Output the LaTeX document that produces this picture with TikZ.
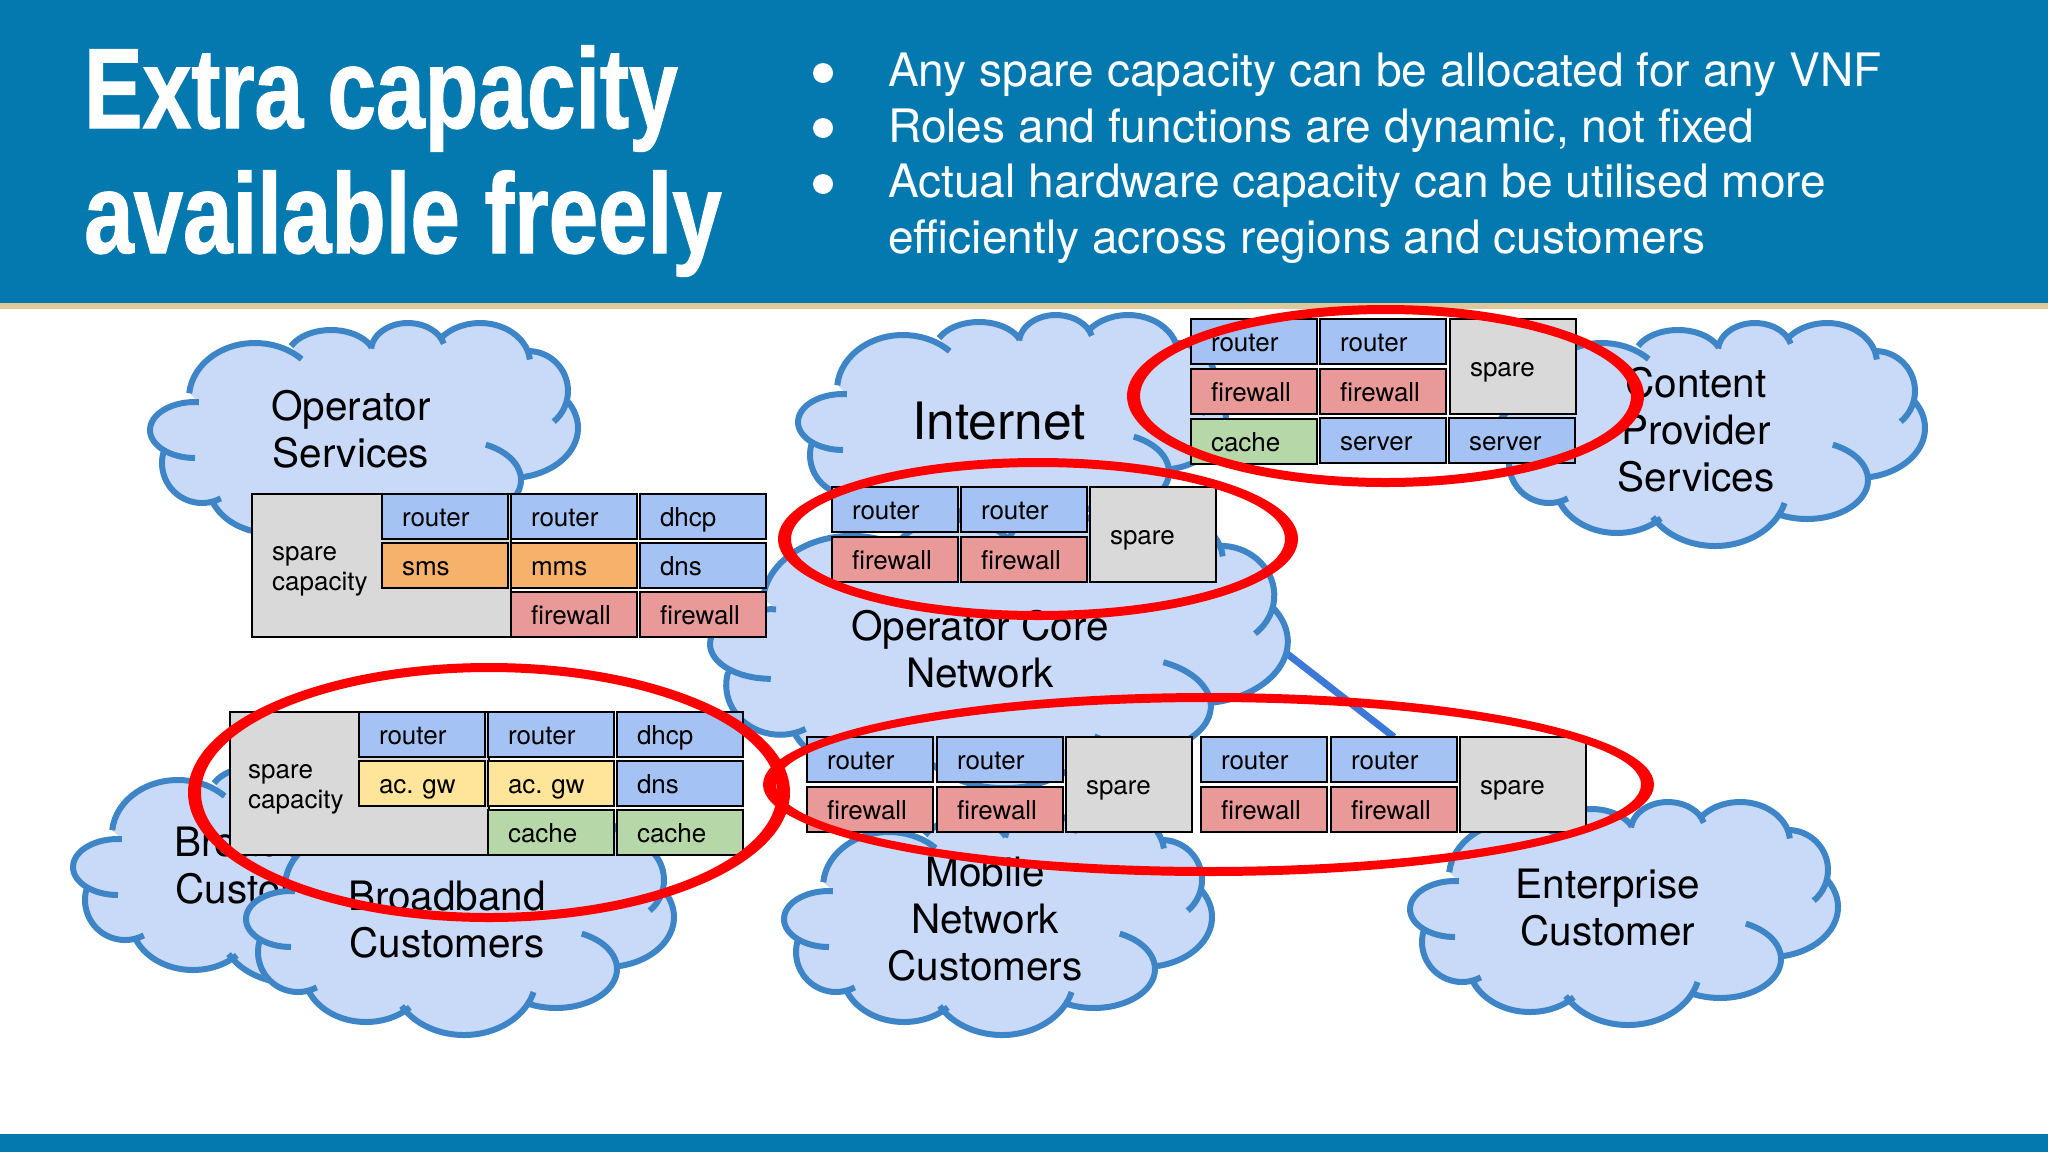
\documentclass[tikz,border=0pt]{standalone}
\usepackage{fontspec}
\setmainfont{TeX Gyre Heros}
\newfontfamily\titlefonta[FakeStretch=0.768,FakeBold=1]{Liberation Sans}
\newfontfamily\titlefontb[FakeStretch=0.78,FakeBold=1]{Liberation Sans}
\usetikzlibrary{backgrounds}

\definecolor{bandblue}{HTML}{0479AF}
\definecolor{bandtan}{HTML}{DCC89B}
\definecolor{cloudfill}{HTML}{C9DAF8}
\definecolor{cloudline}{HTML}{3D85C6}
\definecolor{linkblue}{HTML}{3C78D8}
\definecolor{routerblue}{HTML}{A4C2F4}
\definecolor{firewallred}{HTML}{EA9999}
\definecolor{smsorange}{HTML}{F6B26B}
\definecolor{gwyellow}{HTML}{FFE599}
\definecolor{cachegreen}{HTML}{B6D7A8}
\definecolor{sparegray}{HTML}{D9D9D9}

\tikzset{
  cloudlabel/.style={align=center,font=\fontsize{40.5}{47}\selectfont},
  bulletline/.style={anchor=base west,inner sep=0pt,text=white,font=\fontsize{46.1}{55}\selectfont},
  bulletdot/.style={circle,fill=white,inner sep=0pt,minimum size=20pt},
  cell/.style={draw=black,line width=2.5pt,anchor=north west,outer sep=0pt,inner xsep=20pt,inner ysep=0pt,
    text width=86pt,minimum height=45pt,text height=21pt,text depth=2pt,align=left,font=\fontsize{26}{29}\selectfont},
  routercell/.style={cell,fill=routerblue},
  firewallcell/.style={cell,fill=firewallred},
  smscell/.style={cell,fill=smsorange},
  gwcell/.style={cell,fill=gwyellow},
  cachecell/.style={cell,fill=cachegreen},
  sparecell/.style={cell,fill=sparegray,minimum height=95pt},
  sparebase/.style={draw=black,line width=2.5pt,fill=sparegray,anchor=north west,outer sep=0pt,inner sep=0pt,
    minimum width=259pt,minimum height=143pt},
  sparelabel/.style={anchor=west,inner sep=0pt,align=left,font=\fontsize{26}{30}\selectfont}
}

% ellipse lobe: centre, radii, start and end angle
\newcommand{\lobe}[6]{({#1+#3*cos(#5)},{#2+#4*sin(#5)}) arc[start angle=#5,end angle=#6,x radius=#3,y radius=#4]}
% clockwise from the left
\newcommand{\cloudlobes}[1]{
  \lobe{45}{107}{45}{28}{90}{275} #1
  \lobe{105}{75}{66}{55}{185}{315} #1
  \lobe{181}{35}{44}{28}{205}{338} #1
  \lobe{258}{28}{37}{28}{185}{345} #1
  \lobe{330}{40}{50}{40}{215}{355} #1
  \lobe{378}{68}{40}{40}{268}{410} #1
  \lobe{360}{105}{68}{50}{325}{440} #1
  \lobe{310}{157}{61}{39}{295}{480} #1
  \lobe{218}{165}{72}{58}{15}{150} #1
  \lobe{120}{160}{62}{50}{45}{157} #1
  \lobe{52}{140}{40}{40}{62}{195}
}
\newcommand{\netcloud}[3][]{
  \begin{scope}[shift={(#2,#3)},#1]
    \fill[cloudfill] \cloudlobes{--} -- cycle;
    \draw[cloudline,line width=6pt] \cloudlobes{};
  \end{scope}
}
% the ring is wider at its sides than at top and bottom
\newcommand{\redring}[4]{
  \fill[red,even odd rule] (#1,#2) ellipse (#3 and #4) (#1,#2) ellipse ({#3-13} and {#4-9});
}

\begin{document}
\begin{tikzpicture}[x=1pt,y=-1pt]
  \useasboundingbox (0,0) rectangle (2048,1152);

  % header
  \fill[bandblue] (0,0) rectangle (2048,303);
  \fill[bandtan] (0,303) rectangle (2048,309);
  \fill[bandblue] (0,1134) rectangle (2048,1152);
  \node[anchor=base west,inner sep=0pt,text=white,font=\titlefonta\bfseries\fontsize{114}{114}\selectfont] (title1) at (84,128) {Extra capacity};
  \node[anchor=base west,inner sep=0pt,text=white,font=\titlefontb\bfseries\fontsize{114}{114}\selectfont] (title2) at (84,253) {available freely};
  \node[bulletdot] (dot1) at (823,73) {};
  \node[bulletdot] (dot2) at (823,128) {};
  \node[bulletdot] (dot3) at (823,184) {};
  \node[bulletline] (line1) at (888,86) {Any spare capacity can be allocated for any VNF};
  \node[bulletline] (line2) at (888,142) {Roles and functions are dynamic, not fixed};
  \node[bulletline] (line3) at (888,197) {Actual hardware capacity can be utilised more};
  \node[bulletline] (line4) at (888,253) {efficiently across regions and customers};

  % clouds
  \netcloud{798}{315}
  \node[cloudlabel,font=\fontsize{51.5}{55}\selectfont] (internet) at (999,421) {Internet};
  \netcloud{150}{323}
  \node[cloudlabel] (opservices) at (351,429) {Operator\\Services};
  \netcloud{1497}{323}
  \node[cloudlabel] (content) at (1696,430) {Content\\Provider\\Services};
  \netcloud[xscale=1.35,yscale=1.243]{710}{511}
  \node[cloudlabel] (corenet) at (980,649) {Operator Core\\Network};
  \netcloud{73}{760}
  \node[cloudlabel] (broadback) at (273,866) {Broadband\\Customers};
  \netcloud{246}{812}
  \node[cloudlabel] (broadfront) at (447,920) {Broadband\\Customers};
  \netcloud{784}{812}
  \node[cloudlabel] (mobile) at (985,919) {Mobile\\Network\\Customers};
  \netcloud{1410}{802}
  \node[cloudlabel] (enterprise) at (1608,908) {Enterprise\\Customer};

  % operator services boxes
  \node[sparebase] (svcspare) at (252,494) {};
  \node[sparelabel] (svclabel) at (272,571) {spare\\capacity};
  \node[routercell] (svcr1) at (382,494) {router};
  \node[smscell] (svcsms) at (382,543) {sms};
  \node[routercell] (svcr2) at (511,494) {router};
  \node[smscell] (svcmms) at (511,543) {mms};
  \node[firewallcell] (svcf1) at (511,592) {firewall};
  \node[routercell] (svcdhcp) at (640,494) {dhcp};
  \node[routercell] (svcdns) at (640,543) {dns};
  \node[firewallcell] (svcf2) at (640,592) {firewall};

  % broadband boxes
  \node[sparebase] (bbspare) at (230,712) {};
  \node[sparelabel] (bblabel) at (248,789) {spare\\capacity};
  \node[routercell] (bbr1) at (359,712) {router};
  \node[gwcell] (bbgw1) at (359,761) {ac.\ gw};
  \node[routercell] (bbr2) at (488,712) {router};
  \node[gwcell] (bbgw2) at (488,761) {ac.\ gw};
  \node[cachecell] (bbc1) at (488,810) {cache};
  \node[routercell] (bbdhcp) at (617,712) {dhcp};
  \node[routercell] (bbdns) at (617,761) {dns};
  \node[cachecell] (bbc2) at (617,810) {cache};

  % core boxes
  \node[routercell] (corer1) at (832,487) {router};
  \node[firewallcell] (coref1) at (832,537) {firewall};
  \node[routercell] (corer2) at (961,487) {router};
  \node[firewallcell] (coref2) at (961,537) {firewall};
  \node[sparecell] (corespare) at (1090,487) {spare};

  % content boxes
  \node[routercell] (cpr1) at (1191,319) {router};
  \node[firewallcell] (cpf1) at (1191,369) {firewall};
  \node[cachecell] (cpc1) at (1191,419) {cache};
  \node[routercell] (cpr2) at (1320,319) {router};
  \node[firewallcell] (cpf2) at (1320,369) {firewall};
  \node[routercell] (cps1) at (1320,418) {server};
  \node[sparecell] (cpspare) at (1450,319) {spare};
  \node[routercell] (cps2) at (1449,418) {server};

  % mobile and enterprise boxes
  \node[routercell] (mobr1) at (807,737) {router};
  \node[firewallcell] (mobf1) at (807,787) {firewall};
  \node[routercell] (mobr2) at (937,737) {router};
  \node[firewallcell] (mobf2) at (937,787) {firewall};
  \node[sparecell] (mobspare) at (1066,737) {spare};
  \node[routercell] (entr1) at (1201,737) {router};
  \node[firewallcell] (entf1) at (1201,787) {firewall};
  \node[routercell] (entr2) at (1331,737) {router};
  \node[firewallcell] (entf2) at (1331,787) {firewall};
  \node[sparecell] (entspare) at (1460,737) {spare};

  % link, under the clouds
  \coordinate (coreport) at (1240,617);
  \begin{pgfonlayer}{background}
    \draw[linkblue,line width=7pt] (coreport) -- (entr2.north);
  \end{pgfonlayer}

  % red rings
  \redring{1385.5}{396}{258.5}{91}
  \redring{1038}{539}{260}{81}
  \redring{489}{792.5}{301}{129.5}
  \redring{1208.5}{784.5}{445.5}{91.5}
\end{tikzpicture}
\end{document}
